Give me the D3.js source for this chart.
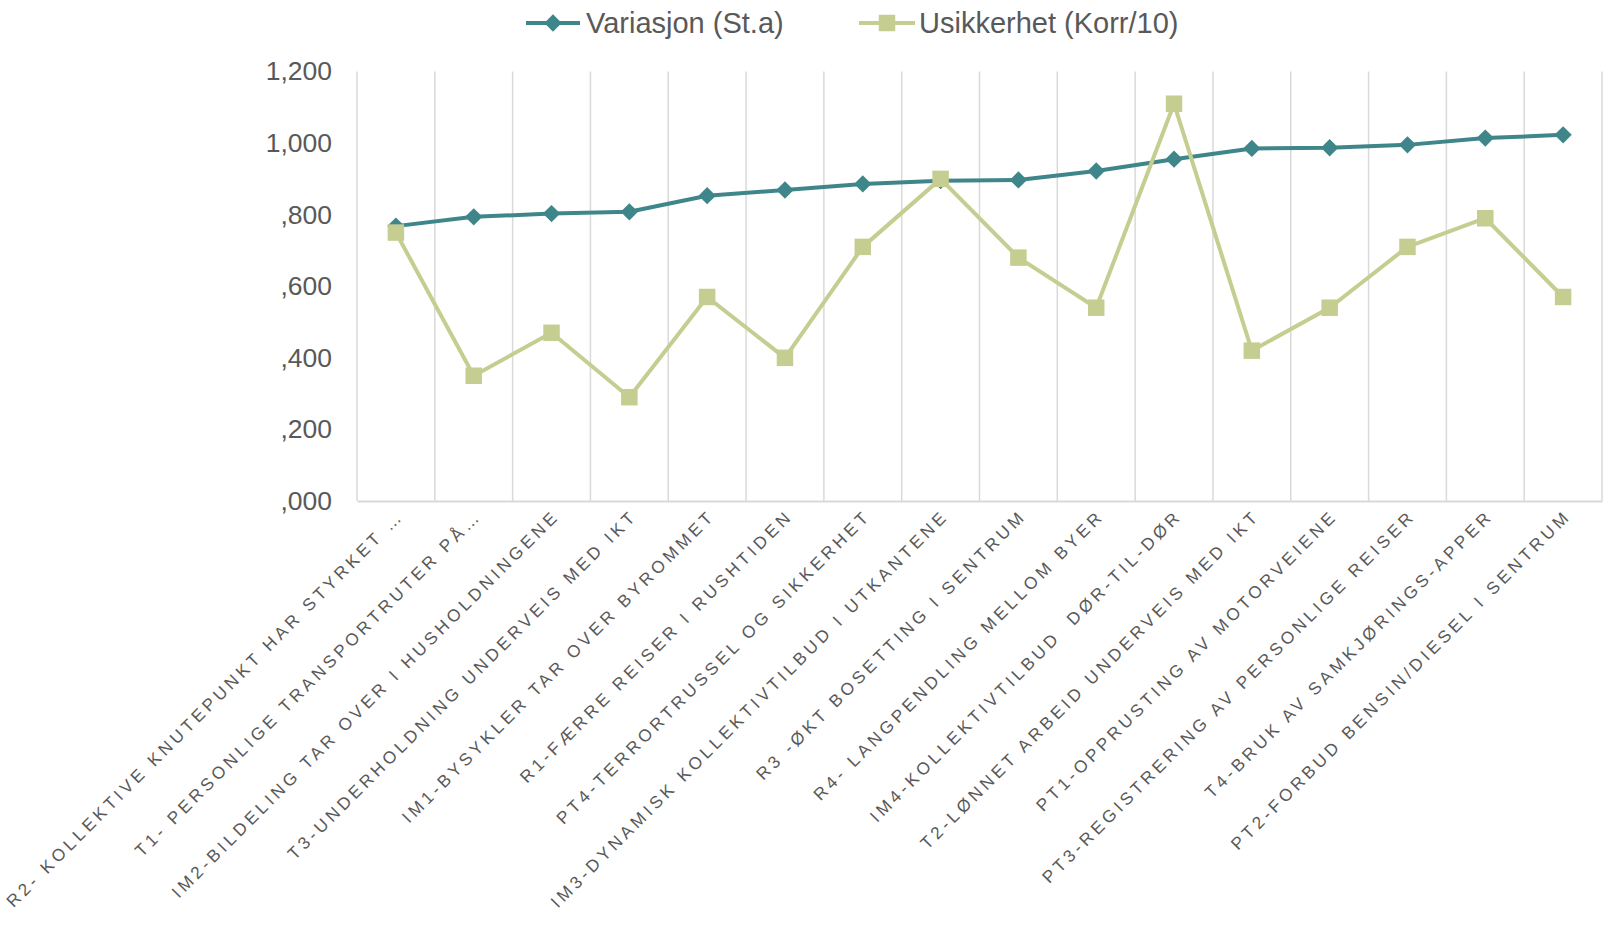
<!DOCTYPE html>
<html>
<head>
<meta charset="utf-8">
<script src="https://cdn.jsdelivr.net/npm/d3@7/dist/d3.min.js"></script>
<style>
  html, body { margin: 0; padding: 0; background: #fff; }
  svg { display: block; font-family: "Liberation Sans", Arial, sans-serif; }
  .xlab { white-space: pre; }
</style>
</head>
<body>
<svg id="chart" width="1603" height="926"></svg>
<script>
// Scenario categories (x axis)
const categories = [
  "R2- KOLLEKTIVE KNUTEPUNKT HAR STYRKET …",
  "T1- PERSONLIGE TRANSPORTRUTER PÅ…",
  "IM2-BILDELING TAR OVER I HUSHOLDNINGENE",
  "T3-UNDERHOLDNING UNDERVEIS MED IKT",
  "IM1-BYSYKLER TAR OVER BYROMMET",
  "R1-FÆRRE REISER I RUSHTIDEN",
  "PT4-TERRORTRUSSEL OG SIKKERHET",
  "IM3-DYNAMISK KOLLEKTIVTILBUD I UTKANTENE",
  "R3 -ØKT BOSETTING I SENTRUM",
  "R4- LANGPENDLING MELLOM BYER",
  "IM4-KOLLEKTIVTILBUD  DØR-TIL-DØR",
  "T2-LØNNET ARBEID UNDERVEIS MED IKT",
  "PT1-OPPRUSTING AV MOTORVEIENE",
  "PT3-REGISTRERING AV PERSONLIGE REISER",
  "T4-BRUK AV SAMKJØRINGS-APPER",
  "PT2-FORBUD BENSIN/DIESEL I SENTRUM"
];

// Series values
const variasjon = [0.768, 0.794, 0.803, 0.808, 0.853, 0.869, 0.886, 0.895,
                   0.897, 0.922, 0.955, 0.985, 0.987, 0.995, 1.014, 1.023];
const usikkerhet = [0.75, 0.35, 0.47, 0.29, 0.57, 0.40, 0.71, 0.90,
                    0.68, 0.54, 1.11, 0.42, 0.54, 0.71, 0.79, 0.57];

// Y axis ticks and their labels
const yTicks = [0, 0.2, 0.4, 0.6, 0.8, 1.0, 1.2];
const yTickLabels = [",000", ",200", ",400", ",600", ",800", "1,000", "1,200"];

const seriesNames = ["Variasjon (St.a)", "Usikkerhet (Korr/10)"];

const TEAL = "#3F868B";
const OLIVE = "#C6CD91";
const GRID = "#D9D9D9";
const TEXT = "#595959";

const svg = d3.select("#chart");
const plotLeft = 357, plotRight = 1602, plotTop = 71.5, plotBottom = 501;

const x = d3.scaleBand().domain(categories).range([plotLeft, plotRight]);
const y = d3.scaleLinear().domain([0, 1.2]).range([plotBottom, plotTop]);

// Vertical category separators
const bounds = categories.map(c => x(c)).concat([plotRight]);
svg.append("g")
  .selectAll("line")
  .data(bounds)
  .join("line")
  .attr("x1", d => d).attr("x2", d => d)
  .attr("y1", plotTop).attr("y2", plotBottom)
  .attr("stroke", GRID).attr("stroke-width", 1.5);

// Y axis
const yAxis = svg.append("g")
  .attr("transform", `translate(${plotLeft},0)`)
  .call(d3.axisLeft(y).tickValues(yTicks)
    .tickFormat((d, i) => yTickLabels[i]).tickSize(0).tickPadding(25));
yAxis.select(".domain").remove();
yAxis.selectAll("text")
  .attr("fill", TEXT)
  .style("font-size", "26.5px")
  .style("font-family", "'Liberation Sans', Arial, sans-serif");

// X axis with spaced, rotated category labels
const xAxis = svg.append("g")
  .attr("transform", `translate(0,${plotBottom})`)
  .call(d3.axisBottom(x).tickSize(0).tickPadding(0));
xAxis.select(".domain").attr("stroke", GRID).attr("stroke-width", 1.8);
xAxis.selectAll("text")
  .attr("class", "xlab")
  .attr("fill", TEXT)
  .attr("text-anchor", "end")
  .attr("dy", null)
  .attr("y", 0)
  .attr("transform", "translate(9,16) rotate(-45)")
  .style("font-size", "17.2px")
  .style("letter-spacing", "3.8px")
  .style("font-family", "'Liberation Sans', Arial, sans-serif");

const cx = d => x(d) + x.bandwidth() / 2;

// Series lines and markers
const line = d3.line().x((d, i) => cx(categories[i])).y(d => y(d));

svg.append("path")
  .datum(variasjon)
  .attr("d", line)
  .attr("fill", "none")
  .attr("stroke", TEAL)
  .attr("stroke-width", 4)
  .attr("stroke-linejoin", "round");

const diamond = d3.symbol().type(d3.symbolSquare).size(150);
svg.append("g")
  .selectAll("path")
  .data(variasjon)
  .join("path")
  .attr("d", diamond)
  .attr("transform", (d, i) => `translate(${cx(categories[i])},${y(d)}) rotate(45)`)
  .attr("fill", TEAL);

svg.append("path")
  .datum(usikkerhet)
  .attr("d", line)
  .attr("fill", "none")
  .attr("stroke", OLIVE)
  .attr("stroke-width", 4)
  .attr("stroke-linejoin", "round");

const square = d3.symbol().type(d3.symbolSquare).size(272);
svg.append("g")
  .selectAll("path")
  .data(usikkerhet)
  .join("path")
  .attr("d", square)
  .attr("transform", (d, i) => `translate(${cx(categories[i])},${y(d)})`)
  .attr("fill", OLIVE);

// Legend
const legendItems = [
  { name: seriesNames[0], color: TEAL, sym: diamond, rot: 45, x0: 526, x1: 580, text: 586 },
  { name: seriesNames[1], color: OLIVE, sym: square, rot: 0, x0: 859, x1: 915, text: 919 }
];
const legendY = 23;
const lg = svg.append("g");
legendItems.forEach(it => {
  lg.append("line")
    .attr("x1", it.x0).attr("x2", it.x1)
    .attr("y1", legendY).attr("y2", legendY)
    .attr("stroke", it.color).attr("stroke-width", 4);
  lg.append("path")
    .attr("d", it.sym)
    .attr("transform", `translate(${(it.x0 + it.x1) / 2},${legendY}) rotate(${it.rot})`)
    .attr("fill", it.color);
  lg.append("text")
    .attr("x", it.text).attr("y", 33.3)
    .attr("fill", TEXT)
    .style("font-size", "29px")
    .text(it.name);
});
</script>
</body>
</html>
